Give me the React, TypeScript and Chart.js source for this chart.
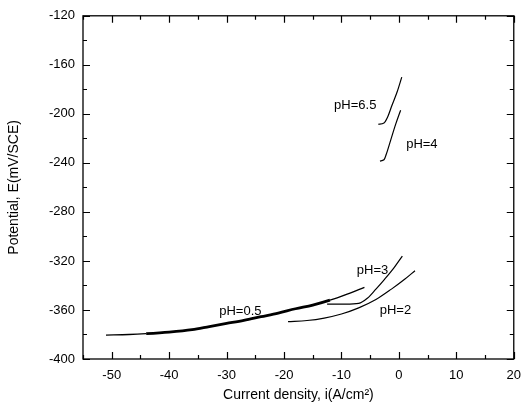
import React, { useEffect, useRef } from 'react';
import { Chart, registerables } from 'chart.js';

Chart.register(...registerables);

// ---- data ----
const ph05X = [-51, -47, -44, -40, -36, -33, -30, -27, -24, -21, -18, -15, -12, -9, -6];
const ph05Y = [-380.5, -380, -379.3, -378, -376, -373.5, -371, -368.5, -365.5, -362.5, -359, -356, -352, -347, -341.5];

const ph2X = [-19.3, -16, -13, -10, -7, -4, -1.3, 1, 2.8];
const ph2Y = [-369.5, -368.6, -366.6, -363.3, -358.3, -351.5, -343, -335, -328];

const ph3X = [-12.5, -9.5, -7, -5.5, -4, -2.5, -1, 0.6];
const ph3Y = [-355.3, -355.2, -354.6, -350.5, -343, -335, -326.5, -316];

const ph4X = [-3.3, -2.6, -2.2, -1.4, -0.6, 0.3];
const ph4Y = [-238.5, -237.5, -233, -221, -209, -197];

const ph65X = [-3.6, -2.6, -2.0, -1.2, -0.3, 0.5];
const ph65Y = [-208.5, -207.5, -203, -193, -182, -170];

const seriesNames = ['pH=0.5', 'pH=2', 'pH=3', 'pH=4', 'pH=6.5'];

const labelTexts = ['pH=0.5', 'pH=2', 'pH=3', 'pH=4', 'pH=6.5'];
const labelX = [-27.6, -0.6, -4.6, 4.0, -7.6];
const labelY = [-361.3, -360.7, -327.5, -225, -193];

const xMajorTicks = [-50, -40, -30, -20, -10, 0, 10, 20];
const xMinorTicks = [-55, -45, -35, -25, -15, -5, 5, 15];
const yMajorTicks = [-400, -360, -320, -280, -240, -200, -160, -120];
const yMinorTicks = [-380, -340, -300, -260, -220, -180, -140];

const xMin = -55;
const xMax = 20;
const yMin = -400;
const yMax = -120;

const FONT = "'Liberation Sans', Arial, Helvetica, sans-serif";

function toPoints(xs: number[], ys: number[]) {
  return xs.map((x, i) => ({ x, y: ys[i] }));
}

const framePlugin = {
  id: 'framePlugin',
  afterDraw(chart: any) {
    const { ctx, chartArea } = chart;
    const xs = chart.scales.x;
    const ys = chart.scales.y;
    const { left, right, top, bottom } = chartArea;
    ctx.save();
    ctx.strokeStyle = '#000';
    ctx.lineWidth = 1.3;
    ctx.strokeRect(left, top, right - left, bottom - top);
    ctx.lineWidth = 1.2;
    const major = 7;
    const minor = 4;
    ctx.beginPath();
    const vTick = (v: number, len: number) => {
      const px = Math.round(xs.getPixelForValue(v)) + 0.5;
      ctx.moveTo(px, bottom);
      ctx.lineTo(px, bottom - len);
      ctx.moveTo(px, top);
      ctx.lineTo(px, top + len);
    };
    const hTick = (v: number, len: number) => {
      const py = Math.round(ys.getPixelForValue(v)) + 0.5;
      ctx.moveTo(left, py);
      ctx.lineTo(left + len, py);
      ctx.moveTo(right, py);
      ctx.lineTo(right - len, py);
    };
    xMajorTicks.forEach((v) => vTick(v, major));
    xMinorTicks.forEach((v) => vTick(v, minor));
    yMajorTicks.forEach((v) => hTick(v, major));
    yMinorTicks.forEach((v) => hTick(v, minor));
    ctx.stroke();

    ctx.fillStyle = '#000';
    ctx.font = `13px ${FONT}`;
    ctx.textAlign = 'center';
    ctx.textBaseline = 'middle';
    labelTexts.forEach((t, i) => {
      ctx.fillText(t, xs.getPixelForValue(labelX[i]), ys.getPixelForValue(labelY[i]));
    });
    ctx.restore();
  },
};

export default function App() {
  const canvasRef = useRef<HTMLCanvasElement | null>(null);

  useEffect(() => {
    if (!canvasRef.current) return;
    const allX = [ph05X, ph2X, ph3X, ph4X, ph65X];
    const allY = [ph05Y, ph2Y, ph3Y, ph4Y, ph65Y];
    const datasets = seriesNames.map((name, i) => {
      const ds: any = {
        label: name,
        data: toPoints(allX[i], allY[i]),
        borderColor: '#000',
        backgroundColor: '#000',
        borderWidth: 1.2,
        pointRadius: 0,
        fill: false,
        cubicInterpolationMode: 'monotone',
      };
      if (i === 0) {
        ds.segment = {
          borderWidth: (c: any) => {
            const x = c.p0.parsed.x;
            return x >= -44 && x < -14 ? 2.8 : 1.4;
          },
        };
      }
      return ds;
    });

    const chart = new Chart(canvasRef.current, {
      type: 'line',
      data: { datasets },
      plugins: [framePlugin],
      options: {
        animation: false,
        responsive: false,
        maintainAspectRatio: false,
        layout: { padding: { top: 13, right: 9, left: 0, bottom: 0 } },
        plugins: {
          legend: { display: false },
          tooltip: { enabled: false },
        },
        scales: {
          x: {
            type: 'linear',
            min: xMin,
            max: xMax,
            afterBuildTicks: (scale: any) => {
              scale.ticks = xMajorTicks.map((v) => ({ value: v }));
            },
            afterFit: (scale: any) => {
              scale.height = 61;
            },
            grid: { display: false, drawTicks: false },
            border: { display: false },
            ticks: {
              color: '#000',
              padding: 9,
              maxRotation: 0,
              autoSkip: false,
              font: { family: FONT, size: 13 },
              callback: (v: any) => String(v),
            },
            title: {
              display: true,
              text: 'Current density, i(A/cm²)',
              color: '#000',
              font: { family: FONT, size: 14 },
              padding: { top: 0, bottom: 16 },
            },
          },
          y: {
            type: 'linear',
            min: yMin,
            max: yMax,
            afterBuildTicks: (scale: any) => {
              scale.ticks = yMajorTicks.map((v) => ({ value: v }));
            },
            afterFit: (scale: any) => {
              scale.width = 83;
            },
            grid: { display: false, drawTicks: false },
            border: { display: false },
            ticks: {
              color: '#000',
              padding: 8,
              autoSkip: false,
              font: { family: FONT, size: 13 },
              callback: (v: any) => String(v),
            },
            title: {
              display: true,
              text: 'Potential, E(mV/SCE)',
              color: '#000',
              font: { family: FONT, size: 14 },
              padding: { top: 6, bottom: 0 },
            },
          },
        },
      },
    });
    return () => chart.destroy();
  }, []);

  return (
    <div style={{ position: 'fixed', left: 0, top: 0, width: 530, height: 420, background: '#fff' }}>
      <canvas ref={canvasRef} width={530} height={420} style={{ width: 530, height: 420, display: 'block' }} />
    </div>
  );
}
